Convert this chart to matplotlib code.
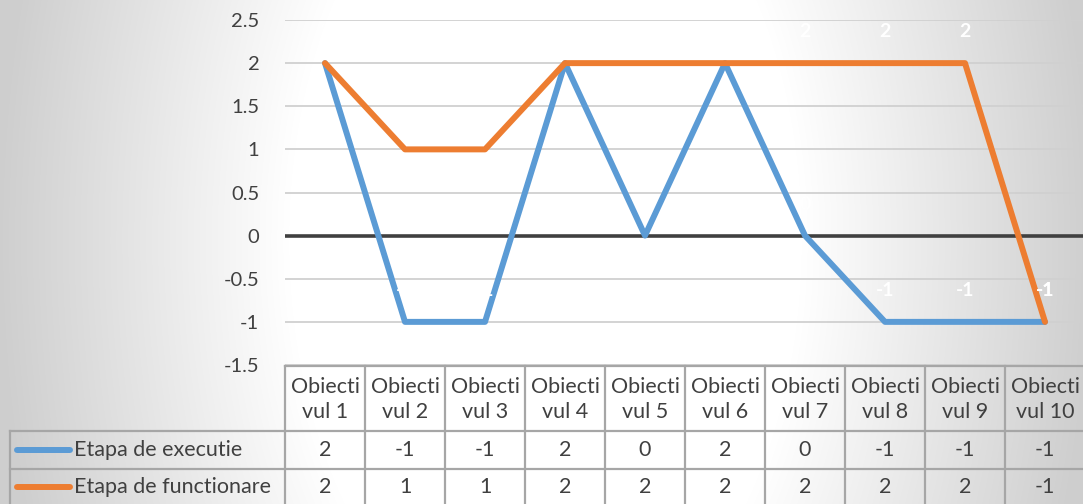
import numpy as np
import matplotlib
matplotlib.use("Agg")
import matplotlib.pyplot as plt

categories = ["Obiecti\nvul 1", "Obiecti\nvul 2", "Obiecti\nvul 3", "Obiecti\nvul 4", "Obiecti\nvul 5",
              "Obiecti\nvul 6", "Obiecti\nvul 7", "Obiecti\nvul 8", "Obiecti\nvul 9", "Obiecti\nvul 10"]
series_names = ["Etapa de executie", "Etapa de functionare"]
executie = [2, -1, -1, 2, 0, 2, 0, -1, -1, -1]
functionare = [2, 1, 1, 2, 2, 2, 2, 2, 2, -1]
yticks = [-1.5, -1, -0.5, 0, 0.5, 1, 1.5, 2, 2.5]

colors = ["#5B9BD5", "#ED7D31"]
text_col = "#404040"
grid_col = "#d0d0d0"
plt.rcParams['font.family'] = ['Lato', 'DejaVu Sans']

W, H = 1083, 504
fig = plt.figure(figsize=(W / 100, H / 100), dpi=100)

# background gradient (white centre, grey edges)
bg = fig.add_axes([0, 0, 1, 1], zorder=-10)
yy, xx = np.mgrid[0:H, 0:W]
cx, cy = 545, 240
d = np.sqrt(((xx - cx) / 545.0) ** 2 + ((yy - cy) / 900.0) ** 2)
t = np.clip((d - 0.47) / 0.53, 0, 1)
val = 1.0 - 0.19 * t
bg.imshow(np.dstack([val, val, val]), extent=[0, W, H, 0], aspect='auto')
bg.set_xlim(0, W)
bg.set_ylim(H, 0)
bg.axis('off')

# main plot axes
left_px, right_px = 285, 1085
top_px, bot_px = 20, 365
ax = fig.add_axes([left_px / W, 1 - bot_px / H, (right_px - left_px) / W, (bot_px - top_px) / H])
ax.patch.set_alpha(0)
x = np.arange(len(categories))
ax.set_xlim(-0.5, len(categories) - 0.5)
ax.set_ylim(-1.5, 2.5)
ax.set_yticks(yticks)
ax.set_yticklabels([f"{v:g}" for v in yticks], fontsize=14.5, color=text_col)
ax.tick_params(axis='y', length=0, pad=18.5)
ax.set_xticks([])
for s in ax.spines.values():
    s.set_visible(False)
for v in yticks:
    if v != 0:
        ax.axhline(v, color=grid_col, lw=1.3, zorder=1)
ax.axhline(0, color="#404040", lw=2.6, zorder=2)

for vals, c in zip([executie, functionare], colors):
    ax.plot(x, vals, color=c, lw=4.3, solid_joinstyle='round', solid_capstyle='round', zorder=3)
for vals in [executie, functionare]:
    for xi, v in zip(x, vals):
        ax.annotate(f"{v:g}", (xi, v), xytext=(0, 22.5), textcoords='offset points',
                    ha='center', va='center', color='white', fontsize=14, fontweight='bold', zorder=4)

# data table overlay in pixel coordinates
ov = fig.add_axes([0, 0, 1, 1], zorder=5)
ov.set_xlim(0, W)
ov.set_ylim(H, 0)
ov.axis('off')
ov.patch.set_alpha(0)
lc = "#a6a6a6"
lw = 1.6
col_w = (right_px - left_px) / len(categories)
hdr_top, row1_top, row2_top, tbl_bot = 366, 431, 469, 507
tbl_left = 10
fs = 15.5
ov.plot([left_px, W], [hdr_top, hdr_top], color=lc, lw=lw)
for yl in [row1_top, row2_top, tbl_bot]:
    ov.plot([tbl_left, W], [yl, yl], color=lc, lw=lw)
ov.plot([tbl_left, tbl_left], [row1_top, tbl_bot], color=lc, lw=lw)
for k in range(len(categories) + 1):
    xl = left_px + k * col_w
    ov.plot([xl, xl], [hdr_top, tbl_bot], color=lc, lw=lw)

for k, cat in enumerate(categories):
    xc = left_px + (k + 0.5) * col_w
    ov.text(xc, (hdr_top + row1_top) / 2 + 1, cat, ha='center', va='center', fontsize=fs,
            color=text_col, linespacing=1.3)
    ov.text(xc, (row1_top + row2_top) / 2, f"{executie[k]:g}", ha='center', va='center',
            fontsize=fs, color=text_col)
    ov.text(xc, (row2_top + tbl_bot) / 2 - 1, f"{functionare[k]:g}", ha='center', va='center',
            fontsize=fs, color=text_col)

for i, (name, c) in enumerate(zip(series_names, colors)):
    yc = (row1_top + row2_top) / 2 if i == 0 else (row2_top + tbl_bot) / 2 - 1
    ov.plot([17, 70], [yc, yc], color=c, lw=4.3, solid_capstyle='round')
    ov.text(74, yc, name, ha='left', va='center', fontsize=fs, color=text_col)

fig.savefig("out.png", dpi=100)
